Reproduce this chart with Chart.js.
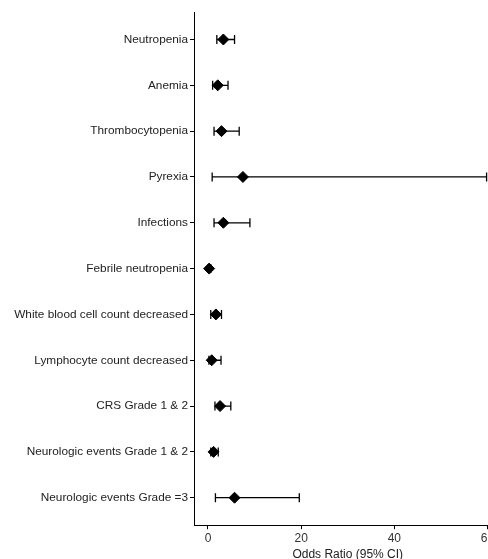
<!DOCTYPE html>
<html>
<head>
<meta charset="utf-8">
<script src="https://cdn.jsdelivr.net/npm/chart.js@4/dist/chart.umd.min.js"></script>
<style>
    body { margin: 0; background: #fff; overflow: hidden; }
    #wrap { width: 508px; height: 562px; }
</style>
</head>
<body>
<div id="wrap"><canvas id="forestChart"></canvas></div>
<script>
const categories = [
    'Neutropenia',
    'Anemia',
    'Thrombocytopenia',
    'Pyrexia',
    'Infections',
    'Febrile neutropenia',
    'White blood cell count decreased',
    'Lymphocyte count decreased',
    'CRS Grade 1 & 2',
    'Neurologic events Grade 1 & 2',
    'Neurologic events Grade =3'
];
const oddsRatio = [3.3, 2.1, 2.9, 7.5, 3.3, 0.25, 1.7, 0.8, 2.6, 1.2, 5.7];
const ciLower   = [1.9, 1.0, 1.3, 0.9, 1.3, 0.05, 0.6, 0.2, 1.5, 0.6, 1.6];
const ciUpper   = [5.7, 4.3, 6.7, 59.8, 9.0, 0.6, 2.9, 2.8, 4.9, 2.2, 19.6];
const xTicks = [0, 20, 40, 60];

// horizontal CI lines with end caps, drawn under the diamonds
const errorBars = {
    id: 'errorBars',
    beforeDatasetsDraw(chart) {
        const ctx = chart.ctx;
        const xs = chart.scales.x;
        const ys = chart.scales.y;
        ctx.save();
        ctx.strokeStyle = '#000';
        ctx.lineWidth = 1.3;
        categories.forEach((c, i) => {
            const y = ys.getPixelForValue(i + 1);
            const x1 = xs.getPixelForValue(ciLower[i]);
            const x2 = xs.getPixelForValue(ciUpper[i]);
            ctx.beginPath();
            ctx.moveTo(x1, y);
            ctx.lineTo(x2, y);
            ctx.moveTo(x1, y - 4.5);
            ctx.lineTo(x1, y + 4.5);
            ctx.moveTo(x2, y - 4.5);
            ctx.lineTo(x2, y + 4.5);
            ctx.stroke();
        });
        ctx.restore();
    }
};

new Chart(document.getElementById('forestChart'), {
    type: 'scatter',
    data: {
        datasets: [{
            data: oddsRatio.map((v, i) => ({ x: v, y: i + 1 })),
            pointStyle: 'rectRot',
            pointRadius: 5.5,
            backgroundColor: '#000',
            borderColor: '#000',
            borderWidth: 1
        }]
    },
    options: {
        responsive: true,
        maintainAspectRatio: false,
        animation: false,
        layout: { padding: { top: 12, right: 0, bottom: 0, left: 0 } },
        plugins: {
            legend: { display: false },
            tooltip: { enabled: false }
        },
        scales: {
            x: {
                type: 'linear',
                min: -3,
                max: 63,
                afterBuildTicks: scale => {
                    scale.ticks = xTicks.map(v => ({ value: v }));
                },
                grid: { drawOnChartArea: false, tickLength: 4, color: '#000', tickColor: '#000' },
                border: { color: '#000', width: 1 },
                ticks: { color: '#333', font: { family: 'Liberation Sans', size: 12 }, padding: 2, maxRotation: 0 },
                title: {
                    display: true,
                    text: 'Odds Ratio (95% CI)',
                    color: '#222',
                    font: { family: 'Liberation Sans', size: 12 },
                    padding: { top: 0, bottom: 0 }
                }
            },
            y: {
                type: 'linear',
                reverse: true,
                min: 0.4,
                max: 11.6,
                afterBuildTicks: scale => {
                    scale.ticks = categories.map((c, i) => ({ value: i + 1 }));
                },
                afterFit: scale => { scale.width = 194; },
                grid: { drawOnChartArea: false, tickLength: 4, color: '#000', tickColor: '#000' },
                border: { color: '#000', width: 1 },
                ticks: {
                    color: '#222',
                    font: { family: 'Liberation Sans', size: 11.8 },
                    padding: 2,
                    callback: value => categories[value - 1]
                }
            }
        }
    },
    plugins: [errorBars]
});
</script>
</body>
</html>
